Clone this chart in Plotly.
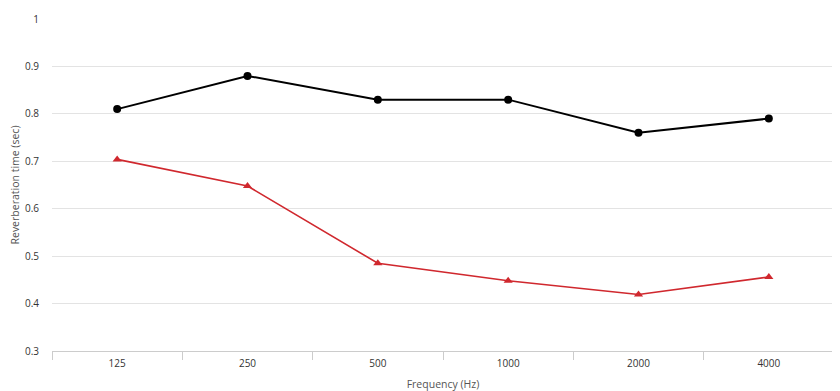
import plotly.graph_objects as go

frequencies = ["125", "250", "500", "1000", "2000", "4000"]
series_black = [0.81, 0.88, 0.83, 0.83, 0.76, 0.79]
series_red = [0.704, 0.648, 0.485, 0.448, 0.419, 0.456]
y_ticks = [0.3, 0.4, 0.5, 0.6, 0.7, 0.8, 0.9, 1.0]
y_tick_labels = ["0.3", "0.4", "0.5", "0.6", "0.7", "0.8", "0.9", "1"]

fig = go.Figure()
fig.add_trace(go.Scatter(
    x=frequencies, y=series_black, mode="lines+markers",
    line=dict(color="#000000", width=2),
    marker=dict(symbol="circle", size=8, color="#000000"),
    showlegend=False,
))
fig.add_trace(go.Scatter(
    x=frequencies, y=series_red, mode="lines+markers",
    line=dict(color="#d0282e", width=1.6),
    marker=dict(symbol="triangle-up", size=8, color="#d0282e"),
    showlegend=False,
))

font = "Open Sans, Verdana, sans-serif"
fig.update_layout(
    width=832, height=383,
    margin=dict(l=44, r=6, t=11, b=40),
    paper_bgcolor="white", plot_bgcolor="white",
    font=dict(family=font, size=10, color="#555555"),
    xaxis=dict(
        type="category", range=[-0.5, 5.5], automargin=False,
        showgrid=False, showline=True, linecolor="#cccccc", linewidth=1,
        ticks="outside", tickson="boundaries", ticklen=8, tickcolor="#cccccc",
        ticklabelstandoff=3,
        tickfont=dict(size=10, color="#333333"),
        title=dict(text="Frequency (Hz)", font=dict(size=10.5, color="#555555"), standoff=12),
        fixedrange=True,
    ),
    yaxis=dict(
        range=[0.3, 1.0], tickvals=y_ticks, ticktext=y_tick_labels, automargin=False,
        showgrid=True, gridcolor="#e3e3e3", gridwidth=1,
        zeroline=False, showline=False,
        ticks="", ticklabelstandoff=12, tickfont=dict(size=10, color="#333333"),
        title=dict(text="Reverberation time (sec)", font=dict(size=10.5, color="#555555"), standoff=8),
        fixedrange=True,
    ),
)

fig.write_html("out.html")
